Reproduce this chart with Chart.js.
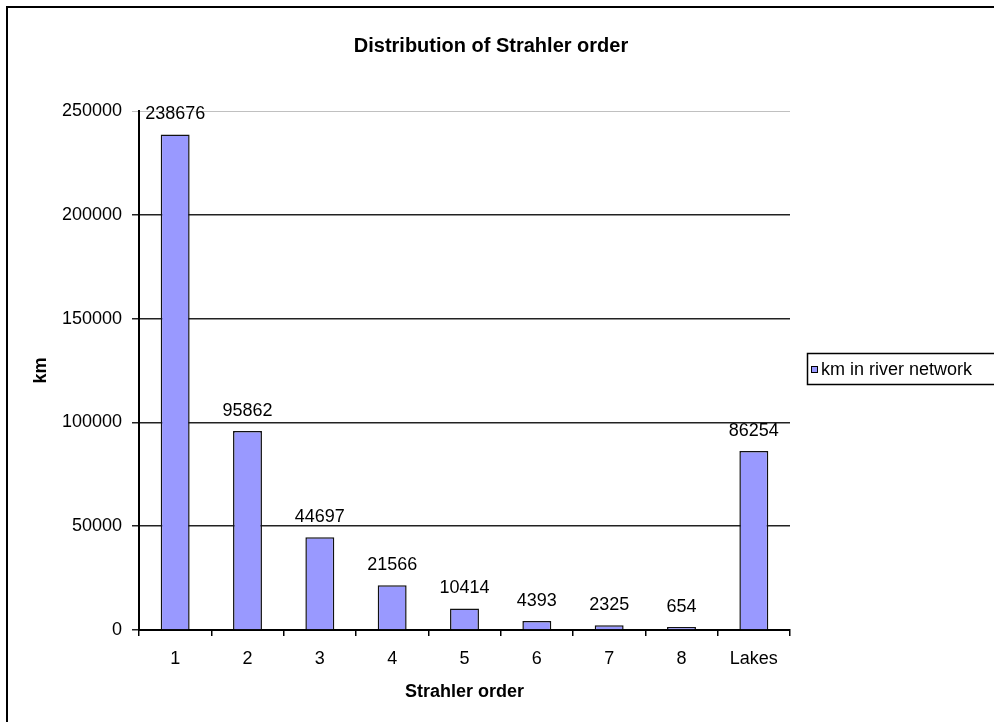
<!DOCTYPE html>
<html>
<head>
<meta charset="utf-8">
<script src="https://cdn.jsdelivr.net/npm/chart.js@4.4.0/dist/chart.umd.min.js"></script>
<style>
  html, body { margin: 0; padding: 0; background: #fff; overflow: hidden; }
  #wrap { position: relative; width: 994px; height: 722px; }
  canvas { display: block; }
</style>
</head>
<body>
<div id="wrap"><canvas id="c" width="994" height="722"></canvas></div>
<script>
const categories = ["1", "2", "3", "4", "5", "6", "7", "8", "Lakes"];
const kmValues = [238676, 95862, 44697, 21566, 10414, 4393, 2325, 654, 86254];
const seriesName = "km in river network";
const chartTitle = "Distribution of Strahler order";
const xTitle = "Strahler order";
const yTitle = "km";
const yMin = 0, yMax = 250000, yStep = 50000;

const FONT = '"Liberation Sans", Arial, sans-serif';
const BAR_FILL = '#9999FF';

const decor = {
  id: 'decor',
  beforeDraw(chart) {
    const ctx = chart.ctx;
    ctx.save();
    ctx.fillStyle = '#fff';
    ctx.fillRect(0, 0, chart.width, chart.height);
    ctx.strokeStyle = '#000';
    ctx.lineWidth = 2;
    ctx.strokeRect(7, 7, 3000, 3000);
    ctx.restore();
  },
  afterDatasetsDraw(chart) {
    const ctx = chart.ctx;
    const ca = chart.chartArea;
    ctx.save();
    // data labels
    ctx.fillStyle = '#000';
    ctx.font = '18px ' + FONT;
    ctx.textAlign = 'center';
    ctx.textBaseline = 'middle';
    const meta = chart.getDatasetMeta(0);
    meta.data.forEach((bar, i) => {
      ctx.fillText(String(chart.data.datasets[0].data[i]), bar.x, Math.min(bar.y, ca.bottom - 2) - 20);
    });
    // title
    ctx.font = 'bold 20px ' + FONT;
    ctx.fillText(chartTitle, 491, 46);
    // axis titles
    ctx.font = 'bold 18px ' + FONT;
    ctx.fillText(xTitle, (ca.left + ca.right) / 2, 692);
    ctx.save();
    ctx.translate(41, (ca.top + ca.bottom) / 2);
    ctx.rotate(-Math.PI / 2);
    ctx.fillText(yTitle, 0, 0);
    ctx.restore();
    // legend
    ctx.strokeStyle = '#000';
    ctx.lineWidth = 1.5;
    ctx.strokeRect(807.5, 353.5, 400, 31);
    ctx.fillStyle = BAR_FILL;
    ctx.fillRect(811, 366, 7, 7);
    ctx.lineWidth = 1;
    ctx.strokeRect(811.5, 366.5, 6, 6);
    ctx.fillStyle = '#000';
    ctx.font = '18px ' + FONT;
    ctx.textAlign = 'left';
    ctx.fillText(chart.data.datasets[0].label, 821, 370);
    ctx.restore();
  }
};

new Chart(document.getElementById('c'), {
  type: 'bar',
  data: {
    labels: categories,
    datasets: [{
      label: seriesName,
      data: kmValues,
      backgroundColor: BAR_FILL,
      borderColor: '#111',
      borderWidth: 1.5,
      borderSkipped: 'start',
      minBarLength: 3,
      barPercentage: 0.4,
      categoryPercentage: 1.0
    }]
  },
  options: {
    responsive: false,
    animation: false,
    events: [],
    layout: { padding: { top: 111, right: 204, bottom: 0, left: 0 } },
    plugins: { legend: { display: false }, title: { display: false }, tooltip: { enabled: false } },
    scales: {
      x: {
        offset: true,
        afterFit(s) { s.height = 92; },
        grid: { offset: true, drawOnChartArea: false, drawTicks: true, tickLength: 6, color: '#000', lineWidth: 1.5 },
        border: { display: true, color: '#000', width: 2 },
        ticks: { color: '#000', font: { family: FONT, size: 18 }, padding: 12, maxRotation: 0 }
      },
      y: {
        min: yMin, max: yMax,
        afterFit(s) { s.width = 139; },
        grid: {
          drawTicks: true, tickLength: 7,
          lineWidth: (c) => (c.tick && c.tick.value === yMax) ? 1 : 1.5,
          color: (c) => (c.tick && c.tick.value === yMax) ? '#c0c0c0' : '#222'
        },
        border: { display: true, color: '#000', width: 2 },
        ticks: {
          stepSize: yStep, color: '#000', padding: 10,
          font: { family: FONT, size: 18 },
          callback: (v) => String(v)
        }
      }
    }
  },
  plugins: [decor]
});
</script>
</body>
</html>
